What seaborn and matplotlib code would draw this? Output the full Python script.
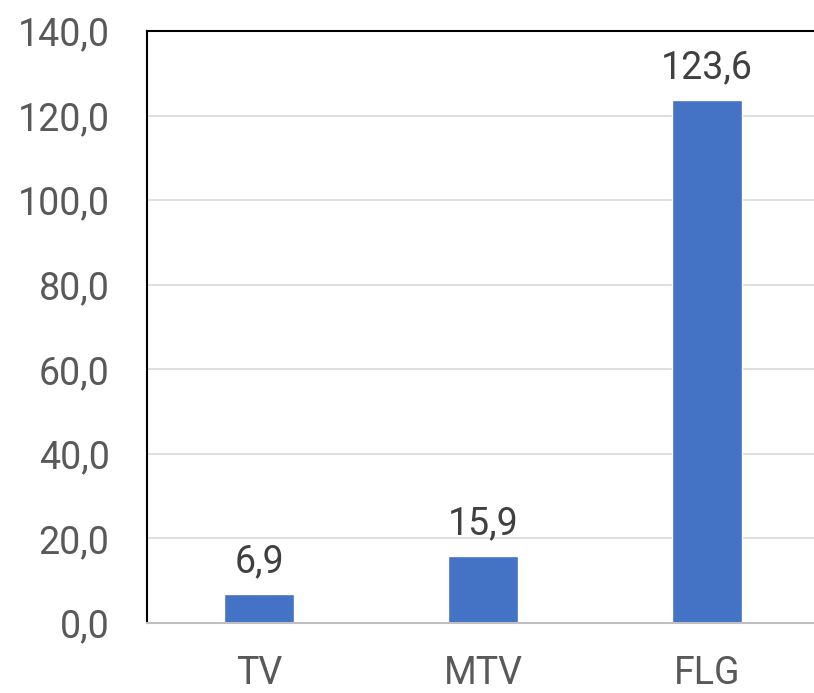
import matplotlib
matplotlib.use("Agg")
import matplotlib.pyplot as plt
import seaborn as sns
import pandas as pd
from matplotlib.ticker import FuncFormatter

categories = ["TV", "MTV", "FLG"]
values = [6.9, 15.9, 123.6]
yticks = [0, 20, 40, 60, 80, 100, 120, 140]

sns.set_theme(style="white")
plt.rcParams['font.family'] = ['Liberation Sans Narrow', 'Roboto', 'DejaVu Sans']

df = pd.DataFrame({"cat": categories, "val": values})

fig = plt.figure(figsize=(8.14, 6.93), dpi=100)
ax = fig.add_axes([147/814, 1 - 623/693, 1 - 147/814, (623 - 31)/693])
sns.barplot(data=df, x="cat", y="val", color="#4472C4", width=0.31, saturation=1, ax=ax)

ax.set_xlim(-0.5, 2.478)
ax.set_ylim(0, 140)
ax.set_yticks(yticks)
ax.yaxis.set_major_formatter(FuncFormatter(lambda v, p: f"{v:.1f}".replace(".", ",")))
ax.set_xlabel("")
ax.set_ylabel("")
ax.grid(axis="y", color="#d9d9d9", linewidth=1.2)
ax.set_axisbelow(True)

for s in ["left", "top"]:
    ax.spines[s].set_color("black")
    ax.spines[s].set_linewidth(1.5)
ax.spines["right"].set_visible(False)
ax.spines["bottom"].set_color("#bfbfbf")
ax.spines["bottom"].set_linewidth(1.5)

ax.tick_params(axis="y", length=0, pad=27, labelsize=27, labelcolor="#595959")
ax.tick_params(axis="x", length=0, pad=23, labelsize=27, labelcolor="#595959")

for i, v in enumerate(values):
    ax.annotate(f"{v:.1f}".replace(".", ","), (i, v), xytext=(0, 10), textcoords="offset points",
                ha="center", va="bottom", fontsize=27, color="#404040")

fig.savefig("out.png", dpi=100)
